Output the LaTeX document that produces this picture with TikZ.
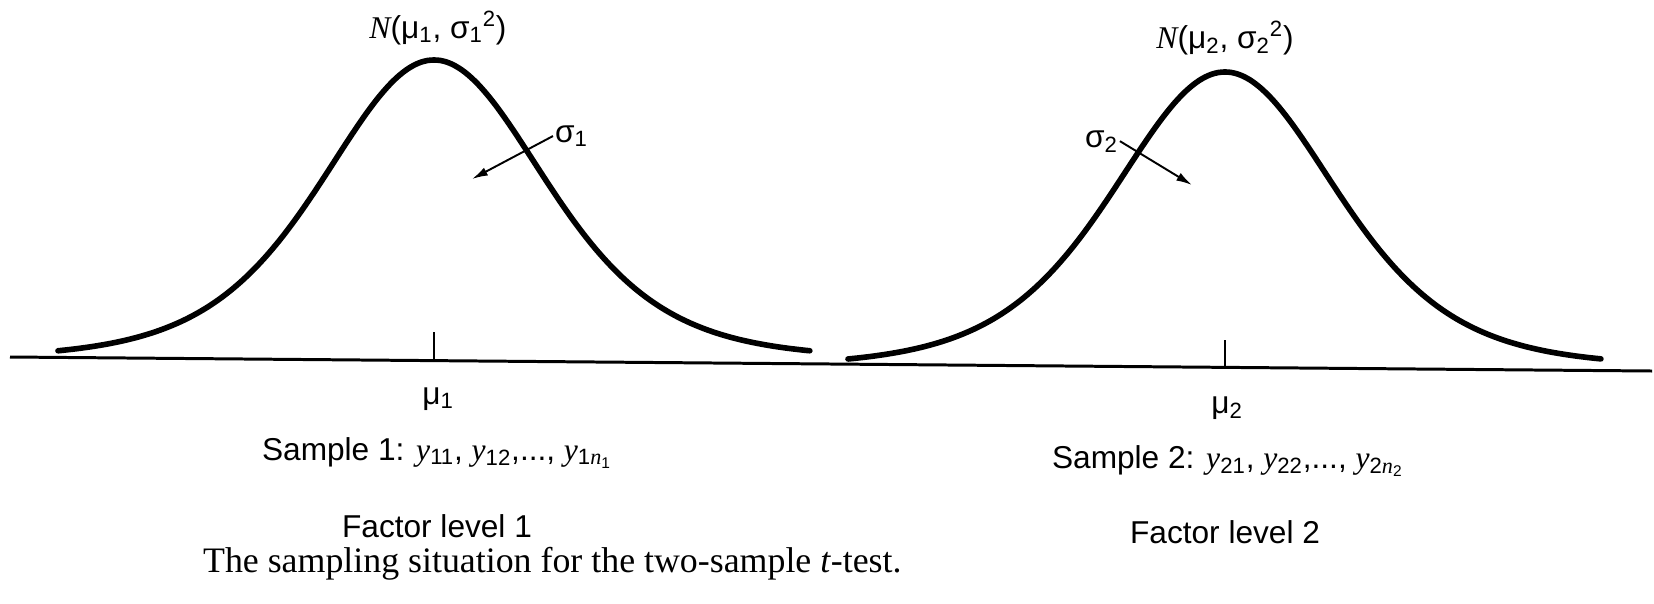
\documentclass[tikz,border=0pt]{standalone}
\usepackage{fontspec}
\setmainfont{Liberation Sans}
\newfontfamily\tms{Liberation Serif}
\usetikzlibrary{arrows.meta}
\newcommand{\vy}{{\tms\itshape y}}
\newcommand{\vn}{{\tms\itshape n}}
\newcommand{\lo}[1]{\textsubscript{#1}}
\newcommand{\hi}[1]{\textsuperscript{#1}}

\begin{document}
\begin{tikzpicture}[x=0.02cm, y=-0.02cm, font=\fontsize{18}{22}\selectfont,
    >={Latex[length=9pt,width=5pt]},
    bell/.style={line width=3.2pt, line cap=round},
    lbl/.style={inner sep=1pt}]
  \useasboundingbox (0,0) rectangle (1654,603);
  % axis and the two means
  \draw[line width=1.7pt] (10,357) -- (1652,371);
  \draw[line width=1.1pt] (434,359) -- (434,332);
  \draw[line width=1.1pt] (1225,367) -- (1225,340);
  % the two normal curves
  \draw[bell] plot[domain=-3.76:3.76, samples=121, smooth]
    ({434+100*\x}, {359-299*exp(-3.5*ln(1+\x*\x/7.9))});
  \draw[bell] plot[domain=-3.77:3.76, samples=121, smooth]
    ({1225+100*\x}, {367-295*exp(-3.5*ln(1+\x*\x/7.9))});
  % factor level 1
  \node[lbl, anchor=base] (n1) at (438,38) {{\tms\itshape N}(μ\lo{1}, σ\lo{1}\hi{2})};
  \node[lbl, anchor=base west] (s1) at (553,142) {σ\lo{1}};
  \coordinate (t1) at (472,179);
  \draw[->, line width=1.1pt] (s1.west) -- (t1);
  \node[lbl, anchor=base] (m1) at (438,404) {μ\lo{1}};
  \node[lbl, anchor=base west] (smp1) at (260,460) {Sample 1: \vy\lo{11}, \vy\lo{12},..., \vy\lo{1\vn\lo{1}}};
  \node[lbl, anchor=base west] (fac1) at (340,537) {Factor level 1};
  % factor level 2
  \node[lbl, anchor=base] (n2) at (1225,48) {{\tms\itshape N}(μ\lo{2}, σ\lo{2}\hi{2})};
  \node[lbl, anchor=base west] (s2) at (1083,147) {σ\lo{2}};
  \coordinate (t2) at (1192,185);
  \draw[->, line width=1.1pt] (s2.east) -- (t2);
  \node[lbl, anchor=base] (m2) at (1227,413) {μ\lo{2}};
  \node[lbl, anchor=base west] (smp2) at (1050,468) {Sample 2: \vy\lo{21}, \vy\lo{22},..., \vy\lo{2\vn\lo{2}}};
  \node[lbl, anchor=base west] (fac2) at (1128,543) {Factor level 2};
  % caption
  \node[lbl, anchor=base west, font=\tms\fontsize{20.4}{24}\selectfont] (cap) at (201,572)
    {The sampling situation for the two-sample \textit{t}-test.};
\end{tikzpicture}
\end{document}
